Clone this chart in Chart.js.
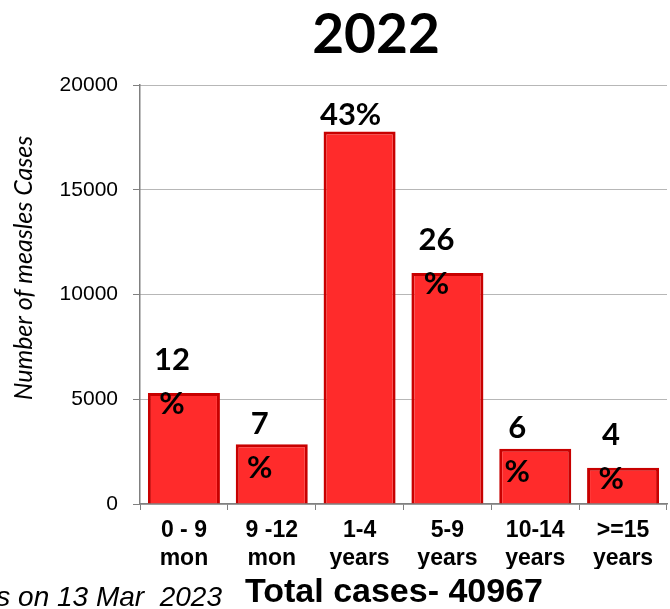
<!DOCTYPE html>
<html>
<head>
<meta charset="utf-8">
<script src="https://cdn.jsdelivr.net/npm/chart.js@4"></script>
<style>
  html, body { margin: 0; padding: 0; background: #fff; }
  canvas { display: block; }
</style>
</head>
<body>
<canvas id="ageChart" width="670" height="609"></canvas>
<script>
// Measles cases by age group
const ageGroups = [['0 - 9', 'mon'], ['9 -12', 'mon'], ['1-4', 'years'], ['5-9', 'years'], ['10-14', 'years'], ['>=15', 'years']];
const measlesCases = [5300, 2850, 17780, 11030, 2640, 1730];
const sharePercent = [12, 7, 43, 26, 6, 4];
const yTicks = [0, 5000, 10000, 15000, 20000];
const chartYear = '2022';
const totalCases = 40967;
const reportDate = '13 Mar  2023';

// percentage labels above each bar ("12" over "%", except the tall one)
const shareLabels = {
    id: 'shareLabels',
    afterDatasetsDraw(chart, args, opts) {
        const ctx = chart.ctx;
        const bars = chart.getDatasetMeta(0).data;
        ctx.save();
        ctx.font = 'bold 31px Lato';
        ctx.fillStyle = '#000';
        ctx.textAlign = 'center';
        ctx.textBaseline = 'alphabetic';
        bars.forEach((bar, i) => {
            const x = bar.x + opts.dx[i];
            const y = bar.y + opts.dy[i];
            if (opts.oneLine[i]) {
                ctx.fillText(sharePercent[i] + '%', x, y - 7);
            } else {
                ctx.fillText(String(sharePercent[i]), x, y - 23);
                ctx.fillText('%', x, y + 21);
            }
        });
        ctx.restore();
    }
};

// year heading, axis caption and footer texts
const captions = {
    id: 'captions',
    afterDraw(chart) {
        const ctx = chart.ctx;
        ctx.save();
        ctx.fillStyle = '#000';
        ctx.textBaseline = 'alphabetic';

        ctx.textAlign = 'center';
        ctx.font = 'bold 55px Lato';
        ctx.fillText(chartYear, 376, 53);

        ctx.save();
        ctx.translate(24, 268);
        ctx.rotate(-Math.PI / 2);
        ctx.textBaseline = 'middle';
        ctx.font = 'italic 25px Lato';
        ctx.fillText('Number of measles Cases', 0, 0);
        ctx.restore();

        ctx.textAlign = 'left';
        ctx.font = 'bold 34px "Liberation Sans"';
        ctx.fillText('Total cases- ' + totalCases, 245, 602);

        ctx.textAlign = 'right';
        ctx.font = 'italic 28px "Liberation Sans"';
        ctx.fillText('Data as on ' + reportDate, 222, 606);
        ctx.restore();
    }
};

const ctx = document.getElementById('ageChart').getContext('2d');

new Chart(ctx, {
    type: 'bar',
    data: {
        labels: ageGroups,
        datasets: [{
            data: measlesCases,
            backgroundColor: '#ff2b2b',
            borderColor: '#c80000',
            borderWidth: 3,
            barPercentage: 0.82,
            categoryPercentage: 1.0
        }]
    },
    options: {
        responsive: false,
        animation: false,
        layout: { padding: { top: 85, right: 3, bottom: 40, left: 0 } },
        scales: {
            x: {
                grid: { drawOnChartArea: false, offset: true, tickLength: 6, color: '#808080', tickColor: '#808080' },
                border: { color: '#808080', width: 1.5 },
                ticks: {
                    color: '#000',
                    font: { family: '"Liberation Sans", Arial', weight: 'bold', size: 23 },
                    padding: 7,
                    maxRotation: 0,
                    autoSkip: false
                },
                afterFit: s => { s.height = 65; }
            },
            y: {
                min: yTicks[0],
                max: yTicks[yTicks.length - 1],
                afterBuildTicks: s => { s.ticks = yTicks.map(v => ({ value: v })); },
                grid: { color: '#6e6e6e', tickColor: '#808080', tickLength: 7, tickBorderDash: [] },
                border: { color: '#808080', width: 1.5, dash: [1, 1] },
                ticks: {
                    color: '#000',
                    font: { family: '"Liberation Sans", Arial', size: 21 },
                    padding: 15,
                    callback: v => String(v)
                },
                afterFit: s => { s.width = 140; }
            }
        },
        plugins: {
            legend: { display: false },
            tooltip: { enabled: false },
            shareLabels: {
                dx: [-12, -12, -9, -11, -18, -12],
                dy: [0, 13, 0, 0, 12, 0],
                oneLine: [false, false, true, false, false, false]
            }
        }
    },
    plugins: [shareLabels, captions]
});
</script>
</body>
</html>
